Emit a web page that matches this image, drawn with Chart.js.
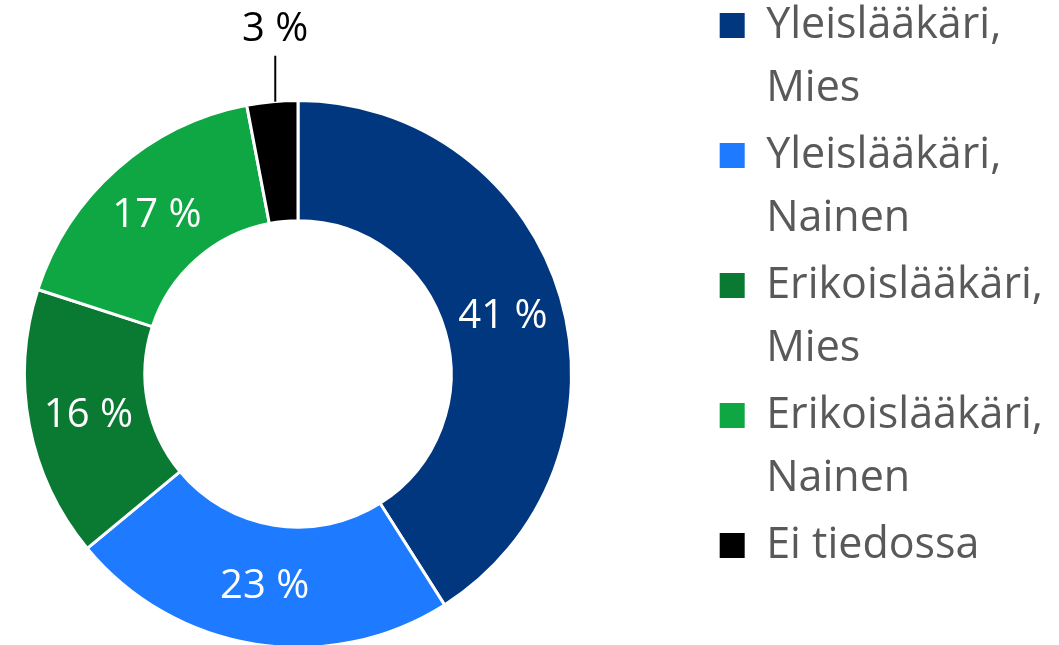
<!DOCTYPE html>
<html>
<head>
<meta charset="utf-8">
<script src="https://cdn.jsdelivr.net/npm/chart.js@4"></script>
<style>
  html, body { margin: 0; padding: 0; background: #fff; }
  .wrap { width: 1059px; height: 645px; position: relative; }
</style>
</head>
<body>
<div class="wrap"><canvas id="myChart"></canvas></div>
<script>
const categoryLines = [
  ['Yleislääkäri,', 'Mies'],
  ['Yleislääkäri,', 'Nainen'],
  ['Erikoislääkäri,', 'Mies'],
  ['Erikoislääkäri,', 'Nainen'],
  ['Ei tiedossa']
];
const shares = [41, 23, 16, 17, 3];
const sliceColors = ['#00377f', '#1e7bff', '#0a7a32', '#0ea743', '#000000'];

const fontFamily = '"Open Sans", "Noto Sans", sans-serif';

// ring sits left of the legend, partly below the canvas bottom edge
const ringCenterX = 298;
const ringCenterY = 374;
const ringRadius = 275;

const ringArea = {
  id: 'ringArea',
  afterLayout(chart) {
    chart.chartArea = {
      left: ringCenterX - ringRadius,
      right: ringCenterX + ringRadius,
      top: ringCenterY - ringRadius,
      bottom: ringCenterY + ringRadius,
      width: 2 * ringRadius,
      height: 2 * ringRadius
    };
  }
};

// percentage labels: inside the ring, except the last small slice which gets a leader line
const sliceLabels = {
  id: 'sliceLabels',
  afterDatasetsDraw(chart) {
    const {ctx} = chart;
    const arcs = chart.getDatasetMeta(0).data;

    ctx.save();
    ctx.font = '40px ' + fontFamily;
    ctx.textAlign = 'center';
    ctx.textBaseline = 'middle';

    arcs.forEach((arc, i) => {
      const text = shares[i] + ' %';
      if (i < arcs.length - 1) {
        const pos = arc.tooltipPosition();
        ctx.fillStyle = '#ffffff';
        ctx.fillText(text, pos.x, pos.y + 2);
        return;
      }
      const {x, y, startAngle, endAngle, outerRadius} = arc.getProps(['x', 'y', 'startAngle', 'endAngle', 'outerRadius']);
      const mid = (startAngle + endAngle) / 2;
      const ax = x + Math.cos(mid) * outerRadius + 3;
      const ay = y + Math.sin(mid) * outerRadius;

      ctx.strokeStyle = '#000000';
      ctx.lineWidth = 2;
      ctx.beginPath();
      ctx.moveTo(ax, ay);
      ctx.lineTo(ax, ay - 46);
      ctx.stroke();

      ctx.fillStyle = '#000000';
      ctx.fillText(text, ax, ay - 72);
    });
    ctx.restore();
  }
};

const data = {
  labels: categoryLines,
  datasets: [{
    data: shares,
    backgroundColor: sliceColors,
    borderColor: '#ffffff',
    borderWidth: 3,
    cutout: '56%'
  }]
};

const config = {
  type: 'doughnut',
  data,
  options: {
    responsive: true,
    maintainAspectRatio: false,
    animation: false,
    layout: {
      padding: {left: 0, right: 6, top: 0, bottom: 0}
    },
    plugins: {
      tooltip: {enabled: false},
      legend: {
        position: 'right',
        align: 'start',
        labels: {
          boxWidth: 25,
          boxHeight: 25,
          padding: 4,
          color: '#595959',
          font: {family: fontFamily, size: 43, lineHeight: '63px'},
          generateLabels(chart) {
            const items = Chart.overrides.doughnut.plugins.legend.labels.generateLabels(chart);
            return items.map(item => ({...item, lineWidth: 0}));
          }
        }
      }
    }
  },
  plugins: [ringArea, sliceLabels]
};

const myChart = new Chart(document.getElementById('myChart'), config);
</script>
</body>
</html>
